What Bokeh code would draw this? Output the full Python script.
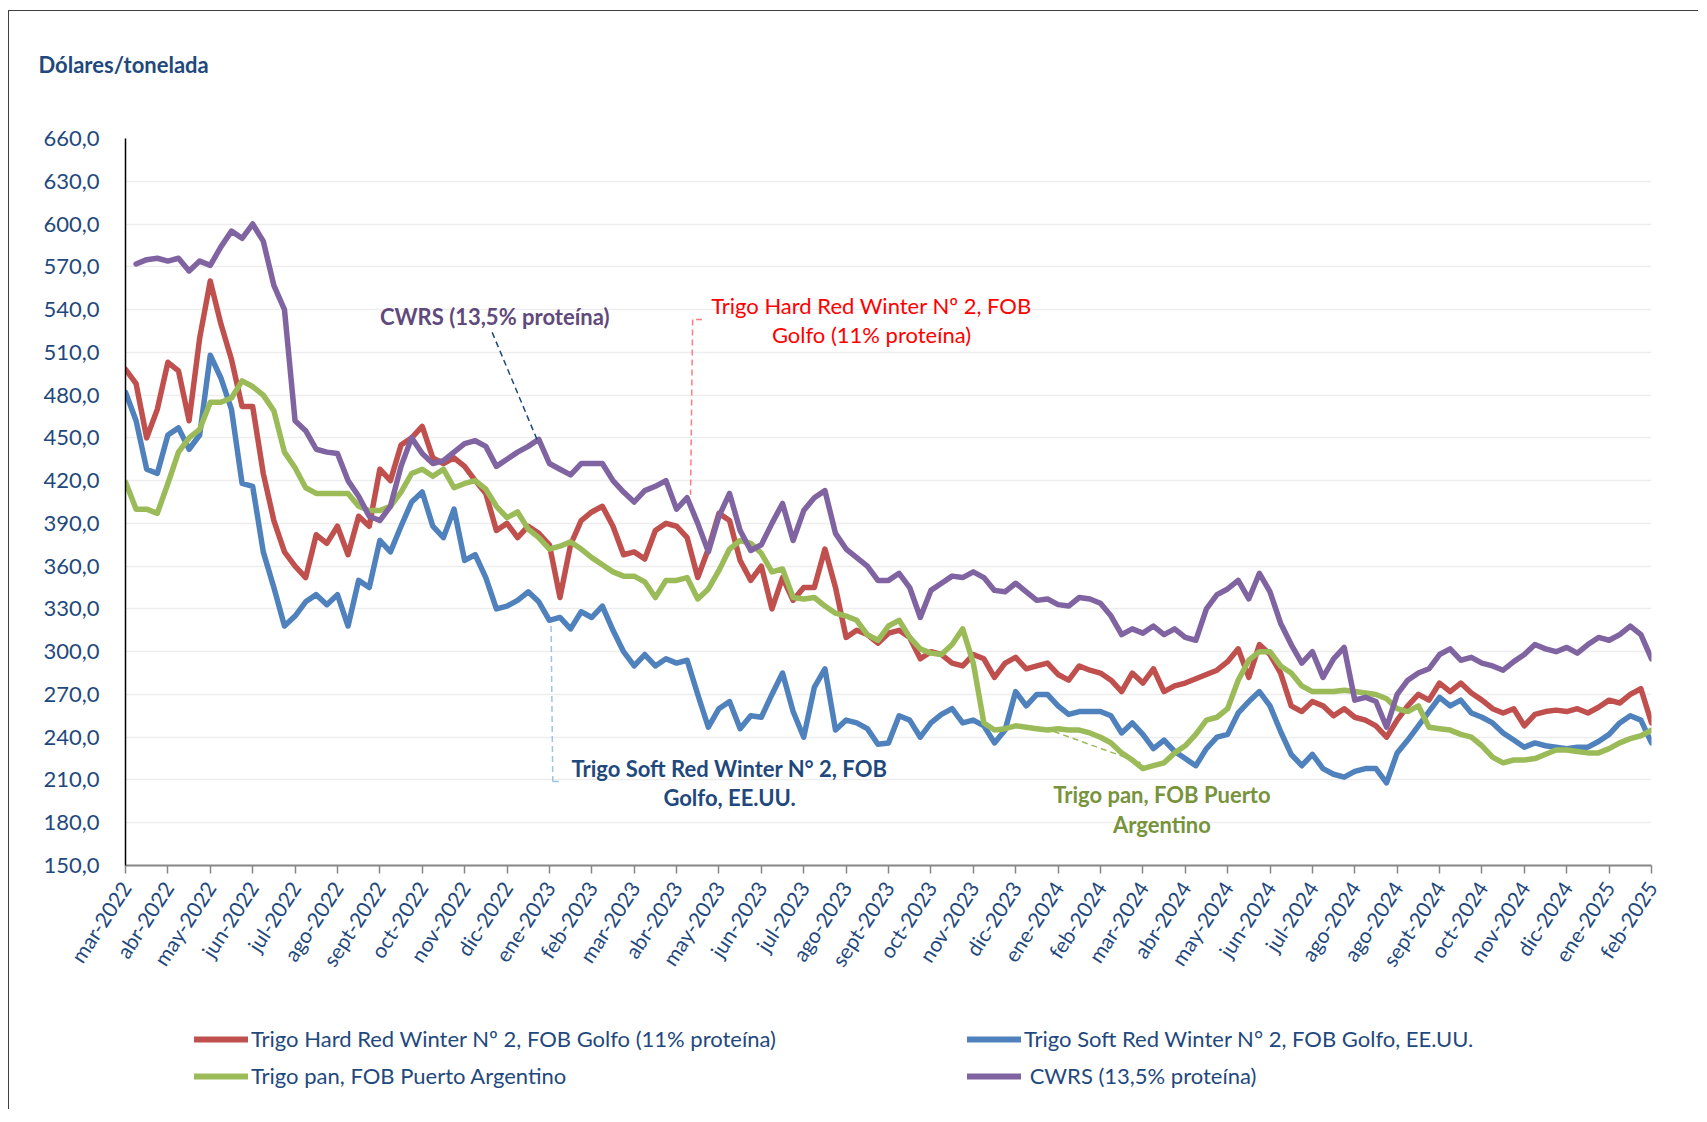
import math
from bokeh.plotting import figure
from bokeh.layouts import column
from bokeh.models import Range1d, FixedTicker, Legend, LegendItem, Label, Arrow
from bokeh.embed import file_html
from bokeh.resources import INLINE

NaN = float("nan")

month_labels = ["mar-2022", "abr-2022", "may-2022", "jun-2022", "jul-2022", "ago-2022",
                "sept-2022", "oct-2022", "nov-2022", "dic-2022", "ene-2023", "feb-2023",
                "mar-2023", "abr-2023", "may-2023", "jun-2023", "jul-2023", "ago-2023",
                "sept-2023", "oct-2023", "nov-2023", "dic-2023", "ene-2024", "feb-2024",
                "mar-2024", "abr-2024", "may-2024", "jun-2024", "jul-2024", "ago-2024",
                "ago-2024", "sept-2024", "oct-2024", "nov-2024", "dic-2024", "ene-2025",
                "feb-2025"]

y_ticks = [150, 180, 210, 240, 270, 300, 330, 360, 390, 420, 450, 480, 510, 540, 570, 600, 630, 660]

# weekly readings (4 per month interval), USD / t
hrw = [498, 488, 450, 470, 503, 497, 462, 520,
       560, 530, 505, 472, 472, 425, 392, 370,
       360, 352, 382, 376, 388, 368, 395, 388,
       428, 420, 445, 450, 458, 436, 432, 436,
       430, 420, 411, 385, 390, 380, 388, 383,
       375, 338, 375, 392, 398, 402, 388, 368,
       370, 365, 385, 390, 388, 380, 352, 372,
       397, 392, 364, 350, 360, 330, 352, 336,
       345, 345, 372, 345, 310, 315, 312, 306,
       313, 315, 310, 295, 300, 298, 292, 290,
       298, 295, 282, 292, 296, 288, 290, 292,
       284, 280, 290, 287, 285, 280, 272, 285,
       278, 288, 272, 276, 278, 281, 284, 287,
       293, 302, 282, 305, 298, 285, 262, 258,
       265, 262, 255, 260, 254, 252, 248, 240,
       252, 262, 270, 266, 278, 272, 278, 271,
       266, 260, 257, 260, 248, 256, 258, 259,
       258, 260, 257, 261, 266, 264, 270, 274,
       250]

srw = [482, 462, 428, 425, 452, 457, 442, 452,
       508, 492, 470, 418, 416, 370, 345, 318,
       325, 335, 340, 333, 340, 318, 350, 345,
       378, 370, 388, 405, 412, 388, 380, 400,
       364, 368, 352, 330, 332, 336, 342, 335,
       322, 324, 316, 328, 324, 332, 315, 300,
       290, 298, 290, 295, 292, 294, 270, 247,
       260, 265, 246, 255, 254, 270, 285, 258,
       240, 275, 288, 245, 252, 250, 246, 235,
       236, 255, 252, 240, 250, 256, 260, 250,
       252, 248, 236, 245, 272, 262, 270, 270,
       262, 256, 258, 258, 258, 255, 243, 250,
       242, 232, 238, 230, 225, 220, 232, 240,
       242, 257, 265, 272, 262, 244, 228, 220,
       228, 218, 214, 212, 216, 218, 218, 208,
       229, 238, 248, 258, 268, 262, 266, 257,
       254, 250, 243, 238, 233, 236, 234, 233,
       232, 233, 233, 237, 242, 250, 255, 252,
       236]

pan = [419, 400, 400, 397, 418, 440, 450, 456,
       475, 475, 478, 490, 486, 480, 469, 440,
       429, 415, 411, 411, 411, 411, 402, 399,
       399, 402, 412, 425, 428, 423, 428, 415,
       418, 420, 414, 402, 394, 398, 386, 380,
       372, 374, 377, 372, 366, 361, 356, 353,
       353, 349, 338, 350, 350, 352, 337, 344,
       357, 372, 378, 376, 369, 356, 358, 338,
       337, 338, 332, 327, 325, 322, 312, 308,
       318, 322, 310, 302, 299, 298, 305, 316,
       292, 250, 245, 246, 248, 247, 246, 245,
       246, 245, 245, 243, 240, 236, 229, 224,
       218, 220, 222, 229, 234, 242, 252, 254,
       260, 280, 294, 300, 300, 290, 285, 276,
       272, 272, 272, 273, 272, 271, 270, 267,
       260, 258, 262, 247, 246, 245, 242, 240,
       234, 226, 222, 224, 224, 225, 228, 231,
       231, 230, 229, 229, 232, 236, 239, 241,
       245]

cwrs = [NaN, 572, 575, 576, 574, 576, 567, 574,
        571, 584, 595, 590, 600, 588, 557, 540,
        462, 455, 442, 440, 439, 420, 409, 395,
        392, 402, 430, 450, 439, 432, 434, 440,
        446, 448, 444, 430, 435, 440, 444, 449,
        432, 428, 424, 432, 432, 432, 420, 412,
        405, 413, 416, 420, 400, 408, 390, 370,
        395, 411, 385, 371, 375, 390, 404, 378,
        399, 408, 413, 383, 372, 366, 360, 350,
        350, 355, 345, 324, 343, 348, 353, 352,
        356, 352, 343, 342, 348, 342, 336, 337,
        333, 332, 338, 337, 334, 325, 312, 316,
        313, 318, 312, 316, 310, 308, 330, 340,
        344, 350, 337, 355, 342, 320, 305, 292,
        300, 282, 295, 303, 266, 268, 265, 247,
        270, 280, 285, 288, 298, 302, 294, 296,
        292, 290, 287, 293, 298, 305, 302, 300,
        303, 299, 305, 310, 308, 312, 318, 312,
        295]

x = [i / 4 for i in range(len(hrw))]

series_names = ["Trigo Hard Red Winter Nº 2, FOB Golfo (11% proteína)",
                "Trigo Soft Red Winter N° 2, FOB Golfo, EE.UU.",
                "Trigo pan, FOB Puerto Argentino",
                "\u00a0CWRS (13,5% proteína)"]
series_colors = ["#C0504D", "#4F81BD", "#9BBB59", "#8064A2"]

FONT = "Lato"
TXT = "#1F497D"
W = 1690

p = figure(width=W, height=989, output_backend="svg", toolbar_location=None,
           x_range=Range1d(0, len(month_labels) - 1), y_range=Range1d(y_ticks[0], y_ticks[-1]),
           min_border_left=116, min_border_right=48, min_border_top=127, min_border_bottom=135)
p.outline_line_color = None
p.background_fill_color = "white"
p.border_fill_color = "white"
p.styles = {"margin-left": "8px", "margin-top": "10px",
            "border-left": "1px solid #404040", "border-top": "1px solid #404040"}

# axis title (second, empty line lifts it higher above the frame)
p.title.text = "Dólares/tonelada\n "
p.title.align = "left"
p.title.offset = -87
p.title.standoff = 68
p.title.text_font = FONT
p.title.text_font_size = "22px"
p.title.text_font_style = "bold"
p.title.text_color = TXT

# axes
p.xaxis.ticker = FixedTicker(ticks=list(range(len(month_labels))))
p.xaxis.major_label_overrides = {i: lab for i, lab in enumerate(month_labels)}
p.xaxis.major_label_orientation = math.radians(57)
p.xaxis.major_label_text_font = FONT
p.xaxis.major_label_text_font_size = "21px"
p.xaxis.major_label_text_color = TXT
p.xaxis.major_label_standoff = 10
p.xaxis.axis_line_color = "#868686"
p.xaxis.axis_line_width = 2
p.xaxis.major_tick_line_color = "#868686"
p.xaxis.major_tick_line_width = 1.5
p.xaxis.major_tick_out = 8
p.xaxis.major_tick_in = 0
p.xaxis.minor_tick_line_color = None

p.yaxis.ticker = FixedTicker(ticks=y_ticks)
p.yaxis.major_label_overrides = {v: f"{v},0" for v in y_ticks}
p.yaxis.major_label_text_font = FONT
p.yaxis.major_label_text_font_size = "22px"
p.yaxis.major_label_text_color = TXT
p.yaxis.major_label_standoff = 20
p.yaxis.axis_line_color = "black"
p.yaxis.axis_line_width = 1.5
p.yaxis.major_tick_line_color = None
p.yaxis.minor_tick_line_color = None

p.xgrid.visible = False
p.ygrid.grid_line_color = "#EDEDED"
p.ygrid.grid_line_width = 1.5

# series
style = dict(line_width=5.5, line_join="round", line_cap="round")
for vals, col in zip([hrw, srw, pan, cwrs], series_colors):
    p.line(x, vals, line_color=col, **style)

def note(xv, yv, text, color, bold=True):
    p.add_layout(Label(x=xv, y=yv, text=text, text_font=FONT, text_font_size="22px",
                       text_font_style="bold" if bold else "normal", text_color=color,
                       text_align="center", text_baseline="middle"))

def leader(x0, y0, x1, y1, color, dash="6 4"):
    p.add_layout(Arrow(end=None, x_start=x0, y_start=y0, x_end=x1, y_end=y1,
                       line_color=color, line_width=1.5, line_dash=dash))

note(8.71, 535, "CWRS (13,5% proteína)", "#604A7B")
leader(8.65, 524, 9.72, 448, "#1F497D")

note(17.6, 543, "Trigo Hard Red Winter Nº 2, FOB", "#FF0000", bold=False)
note(17.6, 522.5, "Golfo (11% proteína)", "#FF0000", bold=False)
leader(13.6, 533, 13.38, 533, "#FF7C80")
leader(13.38, 533, 13.33, 410, "#FF7C80")

note(14.25, 218, "Trigo Soft Red Winter N° 2, FOB", "#1F497D")
note(14.25, 197.5, "Golfo, EE.UU.", "#1F497D")
leader(10.04, 318, 10.08, 209, "#9DC3E6")
leader(10.08, 209, 10.3, 209, "#9DC3E6")

note(24.45, 200, "Trigo pan, FOB Puerto", "#77933C")
note(24.45, 179, "Argentino", "#77933C")
leader(21.9, 244, 23.95, 222, "#9BBB59")

# legend strip below the chart (swatch renderers hold no drawable point)
lg = figure(width=W, height=110, output_backend="svg", toolbar_location=None,
            x_axis_type=None, y_axis_type=None, x_range=Range1d(0, 1), y_range=Range1d(0, 1),
            min_border=0)
lg.outline_line_color = None
lg.border_fill_color = "white"
lg.styles = {"margin-left": "8px", "border-left": "1px solid #404040"}
swatch = [lg.line(x=[NaN], y=[NaN], line_color=c, line_width=6, line_cap="round")
          for c in series_colors]

leg_style = dict(label_text_font=FONT, label_text_font_size="22px", label_text_color=TXT,
                 glyph_width=54, glyph_height=24, label_height=24, spacing=10,
                 padding=0, margin=0, border_line_color=None, background_fill_alpha=0,
                 label_standoff=3)
leg1 = Legend(items=[LegendItem(label=series_names[0], renderers=[swatch[0]]),
                     LegendItem(label=series_names[2], renderers=[swatch[2]])],
              location=(69, 20), **leg_style)
leg2 = Legend(items=[LegendItem(label=series_names[1], renderers=[swatch[1]]),
                     LegendItem(label=series_names[3], renderers=[swatch[3]])],
              location=(842, 20), **leg_style)
lg.add_layout(leg1)
lg.add_layout(leg2)

layout = column(p, lg, spacing=0)
open("out.html", "w").write(file_html(layout, INLINE))
